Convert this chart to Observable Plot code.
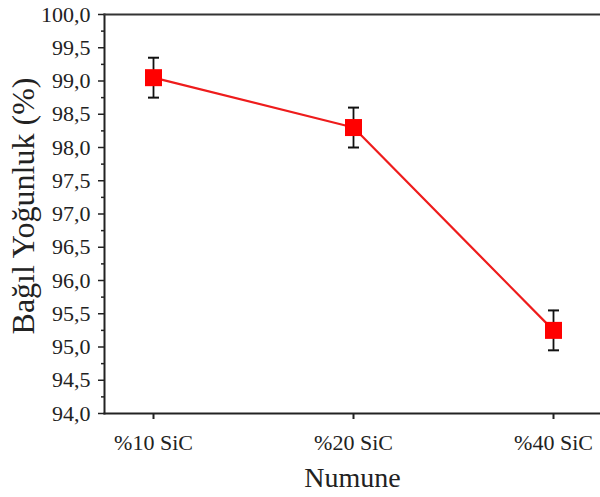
<!DOCTYPE html>
<html>
<head>
<meta charset="utf-8">
<script src="https://cdn.jsdelivr.net/npm/d3@7"></script>
<script src="https://cdn.jsdelivr.net/npm/@observablehq/plot@0.6"></script>
<style>
  html, body { margin: 0; padding: 0; background: #fff; }
  svg { display: block; }
</style>
</head>
<body>
<div id="chart"></div>
<script>
const categories = ["%10 SiC", "%20 SiC", "%40 SiC"];
const density = [99.05, 98.30, 95.25];
const errors = [0.30, 0.30, 0.30];
const yMajorTicks = [94.0, 94.5, 95.0, 95.5, 96.0, 96.5, 97.0, 97.5, 98.0, 98.5, 99.0, 99.5, 100.0];
const yMinorTicks = [94.25, 94.75, 95.25, 95.75, 96.25, 96.75, 97.25, 97.75, 98.25, 98.75, 99.25, 99.75];
const yLabel = "Bağıl Yoğunluk (%)";
const xLabel = "Numune";

const data = categories.map((c, i) => ({cat: c, y: density[i], lo: density[i] - errors[i], hi: density[i] + errors[i]}));

const capSymbol = {
  draw(context, size) {
    const w = 5.5;
    context.moveTo(-w, 0);
    context.lineTo(w, 0);
  }
};

const fmt = d => d.toFixed(1).replace(".", ",");

const plot = Plot.plot({
  width: 600,
  height: 497,
  marginLeft: 104,
  marginRight: 0,
  marginTop: 14,
  marginBottom: 84,
  style: {fontFamily: "'Liberation Serif', 'Times New Roman', serif", fontSize: "22px", color: "#222", background: "#fff"},
  x: {type: "point", domain: categories, range: [153, 553], padding: 0},
  y: {domain: [94, 100]},
  marks: [
    Plot.axisY({ticks: yMinorTicks, tickSize: 3, tickFormat: () => "", strokeWidth: 1.5, label: null}),
    Plot.axisY({ticks: yMajorTicks, tickSize: 6, tickPadding: 8, tickFormat: fmt, strokeWidth: 1.5,
      fontSize: 22, label: null}),
    Plot.axisX({tickSize: 6, tickPadding: 15, strokeWidth: 2, fontSize: 22, label: null}),
    Plot.text([yLabel], {frameAnchor: "left", textAnchor: "middle", lineAnchor: "middle", rotate: -90, dx: -81, dy: -8, fontSize: 32, fill: "#222"}),
    Plot.text([xLabel], {frameAnchor: "bottom", textAnchor: "middle", lineAnchor: "middle", dy: 65, fontSize: 28, fill: "#222"}),
    Plot.frame({anchor: "left", strokeWidth: 2, stroke: "#222"}),
    Plot.frame({anchor: "bottom", strokeWidth: 2, stroke: "#222"}),
    Plot.frame({anchor: "top", strokeWidth: 2, stroke: "#333"}),
    Plot.line(data, {x: "cat", y: "y", stroke: "#ee1c1c", strokeWidth: 2.2}),
    Plot.ruleX(data, {x: "cat", y1: "lo", y2: "hi", stroke: "#111", strokeWidth: 1.8}),
    Plot.dot(data, {x: "cat", y: "lo", symbol: capSymbol, stroke: "#111", strokeWidth: 2, r: 5}),
    Plot.dot(data, {x: "cat", y: "hi", symbol: capSymbol, stroke: "#111", strokeWidth: 2, r: 5}),
    Plot.dot(data, {x: "cat", y: "y", symbol: "square", fill: "#ff0000", stroke: "none", r: 9.6})
  ]
});

document.getElementById("chart").appendChild(plot);
</script>
</body>
</html>
